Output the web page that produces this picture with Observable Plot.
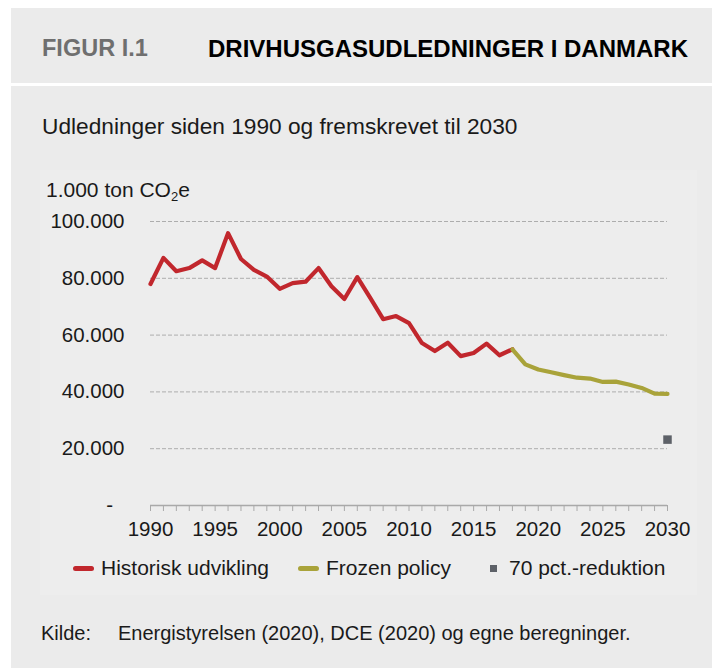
<!DOCTYPE html>
<html>
<head>
<meta charset="utf-8">
<script src="https://cdn.jsdelivr.net/npm/d3@7"></script>
<script src="https://cdn.jsdelivr.net/npm/@observablehq/plot@0.6"></script>
<style>
  html, body { margin: 0; padding: 0; background: #ffffff; }
  #page { position: relative; width: 712px; height: 668px; overflow: hidden; font-family: "Liberation Sans", Arial, sans-serif; color: #1a1a1a; }
  .abs { position: absolute; white-space: nowrap; line-height: 1; }
  #outer { left: 11px; top: 8px; width: 701px; height: 660px; background: #ebebeb; }
  #sep { left: 11px; top: 83px; width: 701px; height: 3px; background: #ffffff; }
  #inner { left: 40px; top: 170px; width: 657px; height: 425px; background: #ededed; }
  #fig { left: 42px; top: 37px; font-size: 23.5px; font-weight: bold; color: #6f6f6f; }
  #title { left: 208px; top: 37px; font-size: 24px; font-weight: bold; color: #000; }
  #subtitle { left: 42px; top: 114.8px; font-size: 22.7px; }
  #unit { left: 46px; top: 178.9px; font-size: 21px; }
  #unit sub { font-size: 13px; vertical-align: -4px; line-height: 0; }
  #chart { left: 0px; top: 180px; }
  .leg { top: 557.2px; font-size: 21px; }
  #kilde { left: 41px; top: 623.1px; font-size: 20px; }
  #kildetxt { left: 118px; top: 623.1px; font-size: 20px; }
</style>
</head>
<body>
<div id="page">
  <div id="outer" class="abs"></div>
  <div id="sep" class="abs"></div>
  <div id="inner" class="abs"></div>
  <div id="fig" class="abs">FIGUR I.1</div>
  <div id="title" class="abs">DRIVHUSGASUDLEDNINGER I DANMARK</div>
  <div id="subtitle" class="abs">Udledninger siden 1990 og fremskrevet til 2030</div>
  <div id="unit" class="abs">1.000 ton CO<sub>2</sub>e</div>
  <div id="chart" class="abs"></div>
  <div id="legend"></div>
  <div id="kilde" class="abs">Kilde:</div>
  <div id="kildetxt" class="abs">Energistyrelsen (2020), DCE (2020) og egne beregninger.</div>
</div>
<script>
// ---- Data (1.000 ton CO2e) ----
const histYears = [1990,1991,1992,1993,1994,1995,1996,1997,1998,1999,2000,2001,2002,2003,2004,2005,2006,2007,2008,2009,2010,2011,2012,2013,2014,2015,2016,2017,2018];
const histValues = [78000,87200,82500,83600,86300,83600,95900,86800,83000,80600,76300,78300,78800,83600,77200,72700,80400,73100,65600,66700,64200,57200,54400,57300,52600,53700,57000,52900,55000];
const frozenYears = [2018,2019,2020,2021,2022,2023,2024,2025,2026,2027,2028,2029,2030];
const frozenValues = [55000,49700,47900,46900,45900,45000,44700,43500,43600,42600,41400,39400,39300];
const targetYears = [2030];
const targetValues = [23200];
const seriesNames = ["Historisk udvikling", "Frozen policy", "70 pct.-reduktion"];
const seriesColors = ["#c1272d", "#a9a33a", "#5d6168"];
const yTicks = [0, 20000, 40000, 60000, 80000, 100000];
const xTickLabels = [1990, 1995, 2000, 2005, 2010, 2015, 2020, 2025, 2030];

const hist = histYears.map((y, i) => ({year: y, value: histValues[i]}));
const frozen = frozenYears.map((y, i) => ({year: y, value: frozenValues[i]}));
const target = targetYears.map((y, i) => ({year: y, value: targetValues[i]}));
const allYears = Array.from(new Set([...histYears, ...frozenYears])).sort((a, b) => a - b);

const dk = d3.formatLocale({decimal: ",", thousands: ".", grouping: [3], currency: ["", ""]});
const fmt = dk.format(",");

const chart = Plot.plot({
  width: 712,
  height: 365,
  marginTop: 41,
  marginBottom: 40,
  marginLeft: 150,
  marginRight: 45,
  style: {background: "transparent", fontFamily: "'Liberation Sans', Arial, sans-serif", fontSize: "20.5px", color: "#1a1a1a", overflow: "visible"},
  x: {domain: [1990, 2030]},
  y: {domain: [0, 100000]},
  marks: [
    Plot.gridY(yTicks.filter(d => d > 0), {stroke: "#adadad", strokeOpacity: 1, strokeWidth: 1, strokeDasharray: "4 2"}),
    Plot.axisY(yTicks, {tickSize: 0, tickPadding: 26, tickFormat: d => d === 0 ? "-\u2007" : fmt(d), fill: "#1a1a1a", label: null}),
    Plot.ruleY([0], {stroke: "#a9a9a9", strokeWidth: 1.5}),
    Plot.axisX(allYears, {tickSize: 6, tickPadding: 10, stroke: "#a9a9a9", tickFormat: d => xTickLabels.includes(d) ? String(d) : "", fill: "#1a1a1a", label: null}),
    Plot.line(hist, {x: "year", y: "value", stroke: seriesColors[0], strokeWidth: 4.2}),
    Plot.line(frozen, {x: "year", y: "value", stroke: seriesColors[1], strokeWidth: 4.2}),
    Plot.dot(target, {x: "year", y: "value", symbol: "square", r: 4.8, fill: seriesColors[2], stroke: "none"})
  ]
});
document.getElementById("chart").appendChild(chart);

// ---- Legend ----
const legend = document.getElementById("legend");
const legX = [73, 298, 490];
const textX = [101, 326, 509];
seriesNames.forEach((name, i) => {
  const sw = document.createElement("div");
  sw.className = "abs";
  if (i < 2) {
    Object.assign(sw.style, {left: legX[i] + "px", top: "566px", width: "21px", height: "5px", borderRadius: "2.5px", background: seriesColors[i]});
  } else {
    Object.assign(sw.style, {left: legX[i] + "px", top: "564.5px", width: "7px", height: "7px", background: seriesColors[i]});
  }
  legend.appendChild(sw);
  const t = document.createElement("div");
  t.className = "abs leg";
  t.style.left = textX[i] + "px";
  t.textContent = name;
  legend.appendChild(t);
});
</script>
</body>
</html>
